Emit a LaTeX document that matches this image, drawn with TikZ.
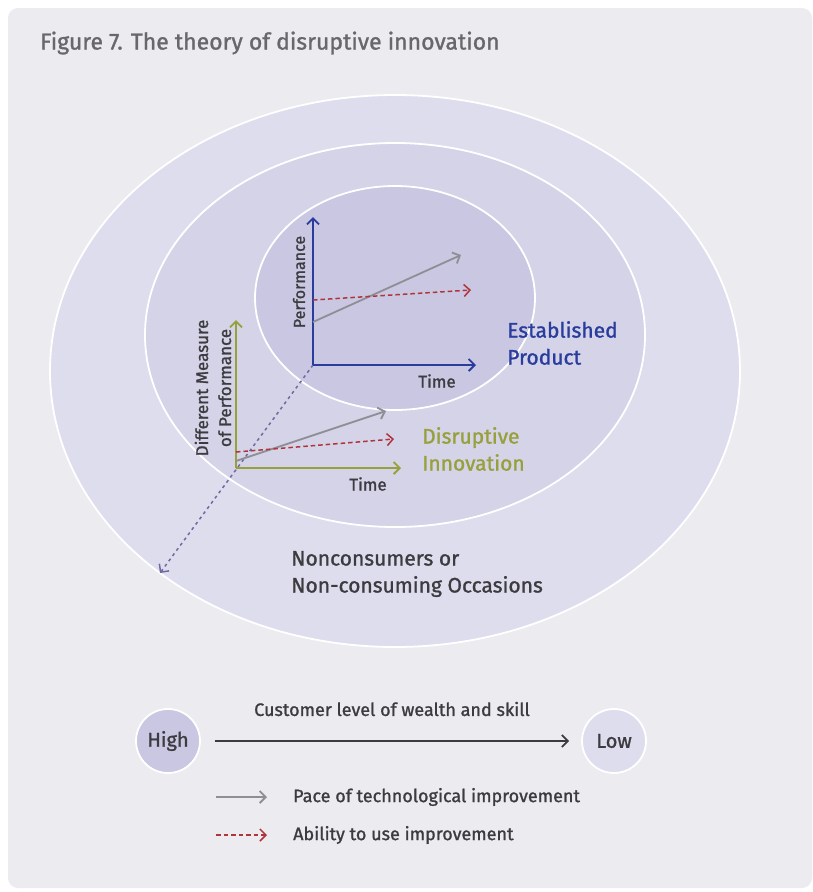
\documentclass[tikz,border=0pt]{standalone}
\usepackage{fontspec}
\setmainfont{Fira Sans}[FakeBold=1.2]
\usetikzlibrary{arrows.meta, positioning}

\definecolor{bgfill}{HTML}{ECEBF0}
\definecolor{ringout}{HTML}{DEDDEE}
\definecolor{ringmid}{HTML}{D4D3E8}
\definecolor{ringin}{HTML}{C9C7E2}
\definecolor{estblue}{HTML}{2A3C9C}
\definecolor{disgreen}{HTML}{97A03A}
\definecolor{techgray}{HTML}{8E8E94}
\definecolor{userred}{HTML}{B0343A}
\definecolor{dotpurple}{HTML}{6F6AA0}
\definecolor{textdark}{HTML}{3C3C40}
\definecolor{titlegray}{HTML}{67676C}

\tikzset{
  chev/.style={-{Straight Barb[length=6pt, width=12pt]}},
  ring/.style={draw=white, line width=1.8pt},
  axis/.style={chev, line width=1.8pt},
  techline/.style={chev, techgray, line width=1.8pt},
  useline/.style={chev, userred, line width=1.5pt, dash pattern=on 4.5pt off 3pt},
  lbl/.style={text=textdark, font=\fontsize{17}{20}\selectfont, inner sep=1pt},
  tag/.style={font=\fontsize{21}{27}\selectfont, align=left, inner sep=0pt, anchor=west}
}

\begin{document}
\begin{tikzpicture}[x=1pt, y=-1pt]
			\useasboundingbox (0,0) rectangle (812,892);
			% Draw the panel
			\fill[bgfill, rounded corners=10pt] (8,8) rectangle (812,888);
			\node[anchor=west, text=titlegray, font=\fontsize{23}{26}\selectfont, inner sep=0pt] (Title) at (40,43) {Figure 7. The theory of disruptive innovation};

			% Draw the rings
			\draw[ring, fill=ringout] (395,371) ellipse [x radius=345, y radius=276];
			\draw[ring, fill=ringmid] (395,335) ellipse [x radius=250, y radius=192];
			\draw[ring, fill=ringin] (395,298) ellipse [x radius=140, y radius=112];

			% Established product axes
			\coordinate (EstO) at (313,365);
			\coordinate (EstY) at (313,217);
			\coordinate (EstX) at (476,365);
			\coordinate (EstTa) at (313,322);
			\coordinate (EstTb) at (461,255);
			\coordinate (EstUa) at (313,300);
			\coordinate (EstUb) at (471,290);

			% Disruptive innovation axes
			\coordinate (DisO) at (236,468);
			\coordinate (DisY) at (236,320);
			\coordinate (DisX) at (401,468);
			\coordinate (DisTa) at (236,461);
			\coordinate (DisTb) at (386,411);
			\coordinate (DisUa) at (236,452);
			\coordinate (DisUb) at (394,439);

			% Draw the dotted link down to the nonconsumers
			\coordinate (NonEnd) at (160,573);
			\draw[chev, dotpurple, line width=1.5pt, dash pattern=on 3pt off 3.5pt] (EstO) -- (NonEnd);

			\draw[axis, estblue] (EstO) -- (EstY);
			\draw[axis, estblue] (EstO) -- (EstX);
			\draw[techline] (EstTa) -- (EstTb);
			\draw[useline] (EstUa) -- (EstUb);

			\draw[axis, disgreen] (DisO) -- (DisY);
			\draw[axis, disgreen] (DisO) -- (DisX);
			\draw[techline] (DisTa) -- (DisTb);
			\draw[useline] (DisUa) -- (DisUb);

			% Axis labels
			\node[lbl, rotate=90, font=\fontsize{16}{19}\selectfont] (EstPerf) at (299,282) {Performance};
			\node[lbl] (EstTime) at (437,381) {Time};
			\node[lbl, rotate=90, align=center, font=\fontsize{17}{23}\selectfont] (DisPerf) at (213,388) {Different Measure\\of Performance};
			\node[lbl] (DisTime) at (368,484) {Time};

			% Ring names
			\node[tag, text=estblue] (EstName) at (507,343) {Established\\Product};
			\node[tag, text=disgreen] (DisName) at (422,449) {Disruptive\\Innovation};
			\node[tag, text=textdark] (NonName) at (291,574) {Nonconsumers or\\Non-consuming Occasions};

			% Draw the legend
			\node[circle, draw=white, line width=1.8pt, fill=ringin, minimum size=64pt, inner sep=0pt, text=textdark, font=\fontsize{20}{24}\selectfont] (High) at (168,741) {High};
			\node[circle, draw=white, line width=1.8pt, fill=ringout, minimum size=64pt, inner sep=0pt, text=textdark, font=\fontsize{20}{24}\selectfont] (Low) at (614,741) {Low};
			\draw[chev, textdark, line width=1.8pt] ([xshift=14pt]High.east) -- ([xshift=-12pt]Low.west);
			\node[lbl, font=\fontsize{18}{21}\selectfont] (Wealth) at (392,709) {Customer level of wealth and skill};

			\coordinate (TechA) at (216,797);
			\coordinate (TechB) at (267,797);
			\coordinate (UseA) at (216,835);
			\coordinate (UseB) at (267,835);
			\draw[techline] (TechA) -- (TechB);
			\draw[useline] (UseA) -- (UseB);
			\node[lbl, anchor=west, font=\fontsize{18}{21}\selectfont] (TechKey) at (292,797) {Pace of technological improvement};
			\node[lbl, anchor=west, font=\fontsize{18}{21}\selectfont] (UseKey) at (292,835) {Ability to use improvement};
\end{tikzpicture}
\end{document}
